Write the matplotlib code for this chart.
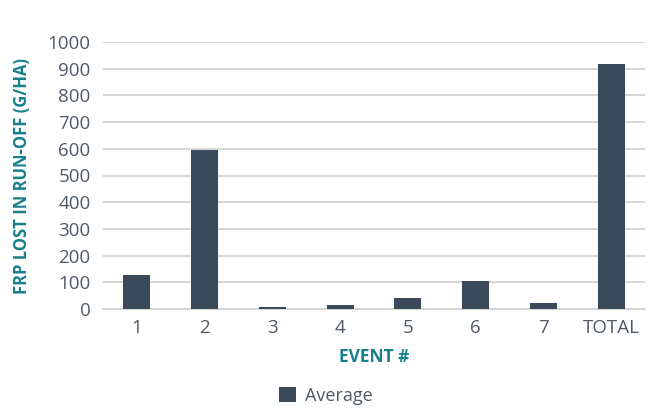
import matplotlib
matplotlib.use("Agg")
import matplotlib.pyplot as plt

plt.rcParams['font.family'] = ['Open Sans', 'DejaVu Sans']

categories = ["1", "2", "3", "4", "5", "6", "7", "TOTAL"]
average = [127, 595, 7, 15, 41, 105, 22, 917]
yticks = [0, 100, 200, 300, 400, 500, 600, 700, 800, 900, 1000]

bar_color = "#3a4a5b"
teal = "#17808c"
tick_color = "#505a66"

fig = plt.figure(figsize=(6.52, 4.08), dpi=100)
ax = fig.add_axes([103/652, 1 - 309/408, 542/652, 267/408])

x = range(len(categories))
ax.bar(x, average, width=0.4, color=bar_color, label="Average", zorder=3)
ax.set_xlim(-0.5, len(categories) - 0.5)
ax.set_ylim(0, 1000)
ax.set_yticks(yticks)
ax.set_xticks(list(x))
ax.set_xticklabels(categories)
ax.yaxis.grid(True, color="#d0d0d0", linewidth=1.2, zorder=0)
ax.tick_params(axis='both', length=0, labelsize=13.5, colors=tick_color)
ax.tick_params(axis='y', pad=9)
ax.tick_params(axis='x', pad=7)
for s in ["top", "right", "left"]:
    ax.spines[s].set_visible(False)
ax.spines["bottom"].set_color("#d0d0d0")
ax.spines["bottom"].set_linewidth(1.2)

ax.set_ylabel("FRP LOST IN RUN-OFF (G/HA)", color=teal, fontsize=12, fontweight="bold", labelpad=12)
ax.set_xlabel("EVENT #", color=teal, fontsize=12.5, fontweight="bold", labelpad=8)

leg = fig.legend(loc="center", bbox_to_anchor=(0.5, 1 - 396/408), frameon=False,
                 fontsize=13, handlelength=0.9, handleheight=0.9, handletextpad=0.5)
for t in leg.get_texts():
    t.set_color(tick_color)

fig.savefig("out.png", dpi=100)
